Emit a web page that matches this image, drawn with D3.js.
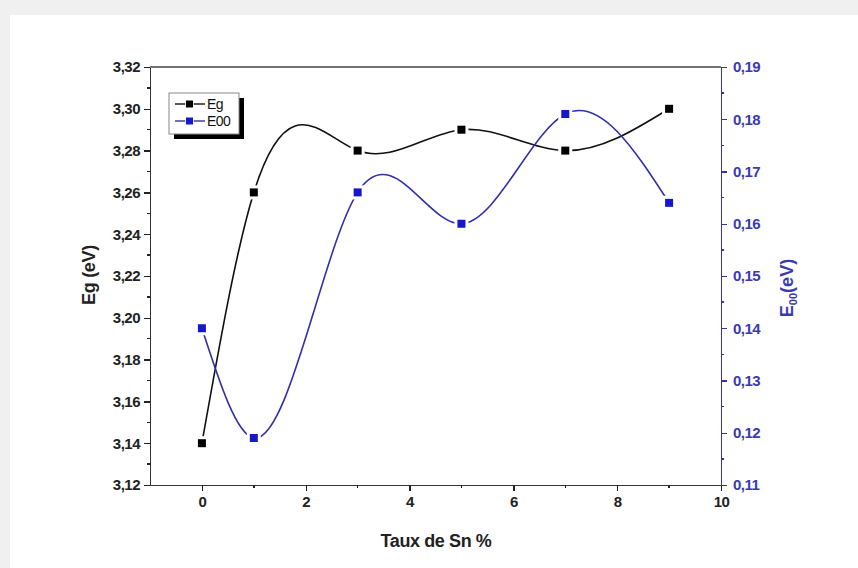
<!DOCTYPE html>
<meta charset="utf-8">
<script src="https://d3js.org/d3.v7.min.js"></script>
<style>
body { margin: 0; background: #f0f0f0; }
text { font-family: "Liberation Sans", Arial, sans-serif; }
.axis path, .axis line { shape-rendering: crispEdges; }
</style>
<body>
<div id="chart"></div>
<script>
// data
var snRate = [0, 1, 3, 5, 7, 9];
var egValues = [3.14, 3.26, 3.28, 3.29, 3.28, 3.30];
var e00Values = [0.140, 0.119, 0.166, 0.160, 0.181, 0.164];
var xTicks = [0, 2, 4, 6, 8, 10];
var egTicks = [3.12, 3.14, 3.16, 3.18, 3.20, 3.22, 3.24, 3.26, 3.28, 3.30, 3.32];
var e00Ticks = [0.11, 0.12, 0.13, 0.14, 0.15, 0.16, 0.17, 0.18, 0.19];
var seriesNames = ['Eg', 'E00'];

var W = 858, H = 568;
var margin = {top: 67, right: 137, bottom: 83, left: 150};
var blue = '#1616cc', blueLine = '#3030a8', blueAxis = '#3434a6';

// natural cubic spline of y as a function of x (like Origin's spline line)
function SplineX(context) { this._context = context; }
SplineX.prototype = {
    areaStart: function() { this._line = 0; },
    areaEnd: function() { this._line = NaN; },
    lineStart: function() { this._x = []; this._y = []; },
    point: function(x, y) { this._x.push(+x); this._y.push(+y); },
    lineEnd: function() {
        var xs = this._x, ys = this._y, n = xs.length - 1, c = this._context;
        if (n < 0) return;
        c.moveTo(xs[0], ys[0]);
        if (n == 0) return;
        var h = [], i;
        for (i = 0; i < n; i++) h.push(xs[i + 1] - xs[i]);
        // tridiagonal solve for second derivatives M (M0 = Mn = 0)
        var M = new Array(n + 1).fill(0);
        if (n > 1) {
            var a = [], b = [], cc = [], r = [];
            for (i = 1; i < n; i++) {
                a.push(h[i - 1]);
                b.push(2 * (h[i - 1] + h[i]));
                cc.push(h[i]);
                r.push(6 * ((ys[i + 1] - ys[i]) / h[i] - (ys[i] - ys[i - 1]) / h[i - 1]));
            }
            var m = b.length;
            for (i = 1; i < m; i++) {
                var w = a[i] / b[i - 1];
                b[i] -= w * cc[i - 1];
                r[i] -= w * r[i - 1];
            }
            var sol = new Array(m);
            sol[m - 1] = r[m - 1] / b[m - 1];
            for (i = m - 2; i >= 0; i--) sol[i] = (r[i] - cc[i] * sol[i + 1]) / b[i];
            for (i = 0; i < m; i++) M[i + 1] = sol[i];
        }
        for (i = 0; i < n; i++) {
            var s = (ys[i + 1] - ys[i]) / h[i];
            var d0 = s - h[i] * (2 * M[i] + M[i + 1]) / 6;
            var d1 = s + h[i] * (M[i] + 2 * M[i + 1]) / 6;
            c.bezierCurveTo(xs[i] + h[i] / 3, ys[i] + d0 * h[i] / 3,
                            xs[i + 1] - h[i] / 3, ys[i + 1] - d1 * h[i] / 3,
                            xs[i + 1], ys[i + 1]);
        }
    }
};
function curveSplineX(context) { return new SplineX(context); }

var svg = d3.select('#chart').append('svg')
    .attr('width', W)
    .attr('height', H);

// page background + white card
svg.append('rect').attr('width', W).attr('height', H).attr('fill', '#f0f0f0');
svg.append('rect').attr('x', 10).attr('y', 15).attr('width', W - 10).attr('height', H - 15).attr('fill', '#fff');

var x = d3.scaleLinear().domain([-1, 10]).range([margin.left, W - margin.right]);
var yL = d3.scaleLinear().domain([3.12, 3.32]).range([H - margin.bottom, margin.top]);
var yR = d3.scaleLinear().domain([0.11, 0.19]).range([H - margin.bottom, margin.top]);

var fmt2 = function(d) { return d3.format('.2f')(d).replace('.', ','); };

// top frame line
svg.append('line')
    .attr('x1', margin.left).attr('x2', W - margin.right)
    .attr('y1', margin.top).attr('y2', margin.top)
    .attr('stroke', '#444').attr('stroke-width', 1.6);

// minor ticks
function minor(g, scale, values, orient, color) {
    values.forEach(function(v) {
        var p = scale(v);
        if (orient == 'left') g.append('line').attr('x1', 0).attr('x2', -3).attr('y1', p).attr('y2', p);
        if (orient == 'right') g.append('line').attr('x1', 0).attr('x2', 3).attr('y1', p).attr('y2', p);
        if (orient == 'bottom') g.append('line').attr('x1', p).attr('x2', p).attr('y1', 0).attr('y2', 3);
    });
    g.selectAll('line').attr('stroke', color).attr('stroke-width', 1.4);
}

// bottom axis
var gx = svg.append('g')
    .attr('class', 'axis')
    .attr('transform', 'translate(0,' + (H - margin.bottom) + ')')
    .call(d3.axisBottom(x).tickValues(xTicks).tickSize(6).tickPadding(5).tickSizeOuter(0));
minor(gx.append('g'), x, [1, 3, 5, 7, 9], 'bottom', '#222');
gx.select('.domain').attr('stroke', '#333').attr('stroke-width', 1.6);
gx.selectAll('.tick line').attr('stroke', '#222').attr('stroke-width', 1.4);
gx.selectAll('.tick text').attr('fill', '#222')
    .style('font-size', '15px').style('font-weight', 'bold').style('letter-spacing', '-0.5px');

// left axis
var gl = svg.append('g')
    .attr('class', 'axis')
    .attr('transform', 'translate(' + margin.left + ',0)')
    .call(d3.axisLeft(yL).tickValues(egTicks).tickFormat(fmt2).tickSize(6).tickPadding(4).tickSizeOuter(0));
minor(gl.append('g'), yL, [3.13, 3.15, 3.17, 3.19, 3.21, 3.23, 3.25, 3.27, 3.29, 3.31], 'left', '#222');
gl.select('.domain').attr('stroke', '#333').attr('stroke-width', 1.6);
gl.selectAll('.tick line').attr('stroke', '#222').attr('stroke-width', 1.4);
gl.selectAll('.tick text').attr('fill', '#222')
    .style('font-size', '15px').style('font-weight', 'bold').style('letter-spacing', '-0.5px');

// right axis
var gr = svg.append('g')
    .attr('class', 'axis')
    .attr('transform', 'translate(' + (W - margin.right) + ',0)')
    .call(d3.axisRight(yR).tickValues(e00Ticks).tickFormat(fmt2).tickSize(6).tickPadding(6).tickSizeOuter(0));
minor(gr.append('g'), yR, [0.115, 0.125, 0.135, 0.145, 0.155, 0.165, 0.175, 0.185], 'right', blueAxis);
gr.select('.domain').attr('stroke', blueAxis).attr('stroke-width', 1.6);
gr.selectAll('.tick line').attr('stroke', blueAxis).attr('stroke-width', 1.4);
gr.selectAll('.tick text').attr('fill', '#3a3ab0')
    .style('font-size', '15px').style('font-weight', 'bold').style('letter-spacing', '-0.5px');

// axis titles
svg.append('text')
    .text('Taux de Sn %')
    .attr('x', 436).attr('y', 547)
    .attr('text-anchor', 'middle')
    .style('font-size', '18px').style('font-weight', 'bold').style('letter-spacing', '-0.4px')
    .attr('fill', '#222');

svg.append('text')
    .text('Eg (eV)')
    .attr('transform', 'translate(95,275) rotate(-90)')
    .attr('text-anchor', 'middle')
    .style('font-size', '18px').style('font-weight', 'bold').style('letter-spacing', '-0.3px')
    .attr('fill', '#222');

var rt = svg.append('text')
    .attr('transform', 'translate(793,288) rotate(-90)')
    .attr('text-anchor', 'middle')
    .style('font-size', '18px').style('font-weight', 'bold')
    .attr('fill', '#3a3ab0');
rt.append('tspan').text('E');
rt.append('tspan').text('00').attr('dy', 4).style('font-size', '11px');
rt.append('tspan').text('(eV)').attr('dy', -4);

// curves
var egData = snRate.map(function(d, i) { return {x: d, y: egValues[i]}; });
var e00Data = snRate.map(function(d, i) { return {x: d, y: e00Values[i]}; });

var lineL = d3.line().x(function(d) { return x(d.x); }).y(function(d) { return yL(d.y); }).curve(curveSplineX);
var lineR = d3.line().x(function(d) { return x(d.x); }).y(function(d) { return yR(d.y); }).curve(curveSplineX);

svg.append('path').datum(egData).attr('d', lineL)
    .attr('fill', 'none').attr('stroke', '#111').attr('stroke-width', 1.6);
svg.append('path').datum(e00Data).attr('d', lineR)
    .attr('fill', 'none').attr('stroke', blueLine).attr('stroke-width', 1.6);

// markers (white halo gives the Origin-style gap)
var ms = 8;
svg.selectAll('.mEg').data(egData).enter().append('rect')
    .attr('x', function(d) { return x(d.x) - ms / 2; })
    .attr('y', function(d) { return yL(d.y) - ms / 2; })
    .attr('width', ms).attr('height', ms)
    .attr('fill', '#000').attr('stroke', '#fff').attr('stroke-width', 6).attr('paint-order', 'stroke');
svg.selectAll('.mE00').data(e00Data).enter().append('rect')
    .attr('x', function(d) { return x(d.x) - ms / 2; })
    .attr('y', function(d) { return yR(d.y) - ms / 2; })
    .attr('width', ms).attr('height', ms)
    .attr('fill', blue).attr('stroke', '#fff').attr('stroke-width', 6).attr('paint-order', 'stroke');

// legend
var lg = svg.append('g').attr('transform', 'translate(169,93)');
lg.append('rect').attr('x', 5).attr('y', 5).attr('width', 70).attr('height', 41).attr('fill', '#000');
lg.append('rect').attr('x', 0).attr('y', 0).attr('width', 70).attr('height', 41)
    .attr('fill', '#fff').attr('stroke', '#888').attr('stroke-width', 1);
var colors = ['#000', blue], lcolors = ['#111', blueLine];
seriesNames.forEach(function(name, i) {
    var cy = 11 + i * 17;
    lg.append('line').attr('x1', 6).attr('x2', 36).attr('y1', cy).attr('y2', cy)
        .attr('stroke', lcolors[i]).attr('stroke-width', 1.4);
    lg.append('rect').attr('x', 17).attr('y', cy - 3.5).attr('width', 7).attr('height', 7)
        .attr('fill', colors[i]).attr('stroke', '#fff').attr('stroke-width', 1.5).attr('paint-order', 'stroke');
    lg.append('text').text(name).attr('x', 38).attr('y', cy + 5)
        .style('font-size', '14px').style('letter-spacing', '-0.6px').attr('fill', '#111');
});
</script>
</body>
</html>
